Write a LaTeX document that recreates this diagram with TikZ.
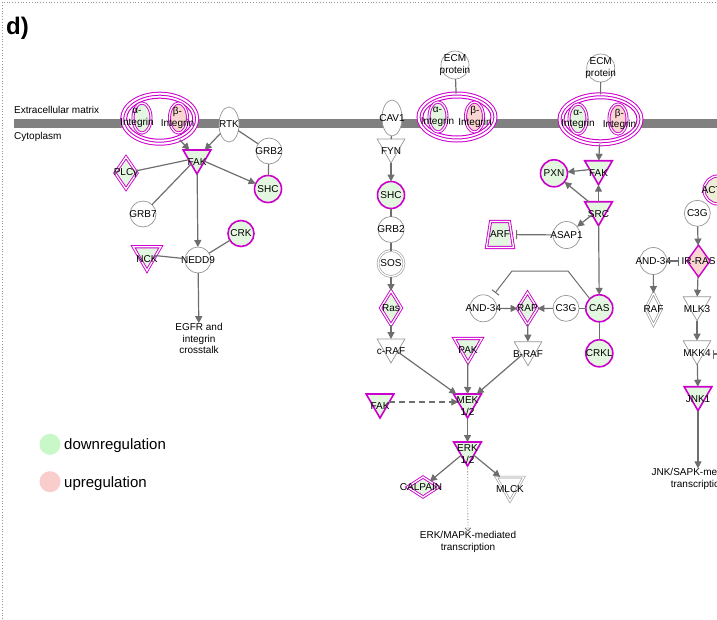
\documentclass[tikz,border=0pt]{standalone}
\usepackage{fontspec}
\setmainfont{Liberation Sans}
\usetikzlibrary{shapes.geometric,arrows.meta}
\definecolor{mag}{RGB}{204,0,204}
\definecolor{dgreen}{RGB}{226,246,224}
\definecolor{pinkf}{RGB}{250,214,210}
\definecolor{egray}{RGB}{110,110,110}
\definecolor{ngray}{RGB}{150,150,150}
\definecolor{mbar}{RGB}{128,128,128}
\definecolor{lgreen}{RGB}{200,248,200}
\definecolor{lpink}{RGB}{250,205,205}
\definecolor{actf}{RGB}{236,238,214}
\newcommand\nfs{\fontsize{10}{11.5}\selectfont}
\tikzset{
 nd/.style={inner sep=0pt,outer sep=0pt},
 lbl/.style={font=\nfs,align=center,inner sep=0pt,text=black},
 lc/.style={label={[lbl]center:#1}},
 lt/.style={label={[lbl,yshift=-4pt]center:#1}},
 wline/.style={draw=ngray,line width=0.7pt,fill=white},
 mline/.style={draw=mag,line width=1.6pt,fill=dgreen},
 mdbl/.style={draw=mag,line width=0.9pt,double=white,double distance=1.3pt,fill=dgreen},
 gdbl/.style={draw=ngray,line width=0.6pt,double=white,double distance=1.3pt,fill=white},
 circ/.style={nd,circle,minimum size=26pt},
 tri/.style={nd,regular polygon,regular polygon sides=3,shape border rotate=180,minimum size=32pt},
 dia/.style={nd,diamond},
 ell/.style={nd,ellipse},
 conn/.style={draw=egray,line width=1.2pt},
 arr/.style={conn,-{Triangle[length=7pt,width=7pt]}},
 inh/.style={conn,-{Bar[width=9pt]}},
 cx/.style={ell,draw=mag,line width=1pt,double=white,double distance=2pt,fill=white},
 cxin/.style={ell,draw=mag,line width=1pt},
 intg/.style={ell,draw=mag,line width=0.9pt,double=white,double distance=1.2pt,minimum width=18pt,minimum height=30pt},
}
\begin{document}
\begin{tikzpicture}[x=1pt,y=-1pt]
\useasboundingbox (0,0) rectangle (717,619);
\clip (0,0) rectangle (717,619);
\draw[ngray,dotted,line width=0.8pt] (2,619) -- (2,2) -- (717,2);
\node[anchor=base west,font=\fontsize{24}{28}\selectfont\bfseries,inner sep=0pt] (title) at (6,34) {d)};

% membrane
\fill[mbar] (14,119) rectangle (717,128);
\node[lbl,anchor=base west] (ecmtxt) at (14,113.5) {Extracellular matrix};
\node[lbl,anchor=base west] (cyto) at (14,139.5) {Cytoplasm};

% integrin complex 1
\node[cx,minimum width=75pt,minimum height=50pt] (cx1) at (159.7,118.7) {};
\node[cxin,minimum width=66pt,minimum height=41pt] (cx1i) at (159.7,118.7) {};
\node[intg,fill=dgreen] (a1) at (142,118) {};
\node[intg,fill=pinkf] (b1) at (178.5,118) {};
\node[lbl] (a1t) at (137,118) {α-\\Integrin};
\node[lbl] (b1t) at (177.5,118) {β-\\Integrin};

% integrin complex 2
\node[cx,minimum width=77pt,minimum height=47pt] (cx2) at (457,117) {};
\node[cxin,minimum width=68pt,minimum height=38pt] (cx2i) at (457,117) {};
\node[intg,fill=dgreen] (a2) at (438,117) {};
\node[intg,fill=pinkf] (b2) at (474.5,117) {};
\node[lbl] (a2t) at (437.5,117) {α-\\Integrin};
\node[lbl] (b2t) at (475,117) {β-\\Integrin};

% integrin complex 3
\node[cx,minimum width=82pt,minimum height=50pt] (cx3) at (600.5,119.3) {};
\node[cxin,minimum width=73pt,minimum height=41pt] (cx3i) at (600.5,119.3) {};
\node[intg,fill=dgreen] (a3) at (578,119) {};
\node[intg,fill=pinkf] (b3) at (618,119) {};
\node[lbl] (a3t) at (578,119.5) {α-\\Integrin};
\node[lbl] (b3t) at (619.5,119.5) {β-\\Integrin};

% left network
\node[ell,wline,minimum width=20pt,minimum height=35pt,lc=RTK] (rtk) at (229,124.5) {};
\node[circ,wline,lc=GRB2] (grb2a) at (269,151) {};
\node[tri,mline,lt=FAK] (fakL) at (197,158) {};
\node[dia,mdbl,minimum width=22pt,minimum height=32pt,lc=PLCγ] (plc) at (126,173) {};
\node[circ,mline,minimum size=27pt,lc=SHC] (shcA) at (268,189) {};
\node[circ,wline,lc=GRB7] (grb7) at (143,214) {};
\node[circ,wline,lc=NEDD9] (nedd9) at (198,260) {};
\node[circ,mline,lc=CRK] (crk) at (241,233.5) {};
\node[tri,mdbl,lt=NCK] (nck) at (147,254.7) {};
\node[lbl] (egfr) at (199,338.5) {EGFR and\\integrin\\crosstalk};

% middle network
\node[circ,wline,minimum size=28pt,lc={ECM\\protein}] (ecm2) at (455,65) {};
\node[ell,wline,minimum width=20pt,minimum height=36pt,lc=CAV1] (cav1) at (392,118) {};
\node[tri,wline,lt=FYN] (fyn) at (391,147) {};
\node[circ,mline,minimum size=27pt,lc=SHC] (shcB) at (391,195) {};
\node[circ,wline,lc=GRB2] (grb2b) at (391,229.5) {};
\node[circ,gdbl,lc=SOS] (sos) at (391,263.5) {};
\node[dia,mdbl,minimum width=21pt,minimum height=34pt,lc=Ras] (ras) at (391,308) {};
\node[tri,wline,lt=c-RAF] (craf) at (391,347) {};
\node[tri,mdbl,lt=PAK] (pak) at (468,346.5) {};
\node[tri,mline,lt={MEK\\1/2}] (mek) at (467.5,402) {};
\node[tri,mline,lt=FAK] (fakM) at (380,402) {};
\node[tri,mline,lt={ERK\\1/2}] (erk) at (467.5,450) {};
\node[dia,mdbl,minimum width=31pt,minimum height=20pt] (calpain) at (423,487) {};
\node[lbl] (calpaint) at (421,487) {CALPAIN};
\node[tri,gdbl,lt=MLCK] (mlck) at (510,485) {};
\node[lbl] (erktxt) at (468,542) {ERK/MAPK-mediated\\transcription};

% right network
\node[circ,wline,minimum size=28pt,lc={ECM\\protein}] (ecm3) at (600.7,68) {};
\node[tri,mline,lt=FAK] (fakR) at (598.5,168.7) {};
\node[circ,mline,minimum size=27pt,lc=PXN] (pxn) at (554,173.3) {};
\node[tri,mline,lt=SRC] (src) at (598.5,209.7) {};
\node[circ,wline,minimum size=27pt,lc=ASAP1] (asap1) at (566.5,235) {};
\node[nd,trapezium,trapezium left angle=78,trapezium right angle=78,trapezium stretches=true,minimum width=27pt,minimum height=26pt,mdbl,lc=ARF] (arf) at (500,234.5) {\phantom{\rule{2pt}{2pt}}};
\node[circ,mline,minimum size=27pt,lc=CAS] (casN) at (599.3,308.3) {};
\node[circ,mline,minimum size=27pt,lc=CRKL] (crkl) at (599.3,353.3) {};
\node[circ,wline,lc=C3G] (c3gM) at (566,308.3) {};
\node[dia,mdbl,minimum width=20pt,minimum height=32pt,lc=RAP] (rap) at (527.5,308.5) {};
\node[circ,wline,minimum size=27pt,lc=AND-34] (and34M) at (483.3,308.3) {};
\node[tri,wline,lt=B-RAF] (braf) at (528,349.7) {};

% far right network
\node[circ,mdbl,fill=actf,minimum size=28pt] (act) at (718,190) {};
\node[lbl,anchor=west] (actt) at (701.5,190) {ACT};
\node[circ,wline,lc=C3G] (c3gR) at (697.3,213.3) {};
\node[dia,draw=mag,line width=1.4pt,fill=pinkf,minimum width=23pt,minimum height=32pt,lc=IR-RAS] (irras) at (698.5,261) {};
\node[circ,wline,minimum size=27pt,lc=AND-34] (and34R) at (653.3,261) {};
\node[dia,gdbl,minimum width=16pt,minimum height=32pt,lc=RAF] (rafR) at (653.5,309) {};
\node[tri,wline,lt=MLK3] (mlk3) at (697,304.7) {};
\node[tri,wline,lt=MKK4] (mkk4) at (697,348.7) {};
\node[tri,mline,lt=JNK1] (jnk1) at (698,394.7) {};
\node[lbl] (jnktxt) at (698,479) {JNK/SAPK-mediated\\transcription};
\coordinate (mkkin) at (740,354);
\coordinate (k1) at (568,271);
\coordinate (k2) at (512,271);

% legend
\node[nd,circle,fill=lgreen,minimum size=21pt] (lg1) at (50,444.3) {};
\node[anchor=west,font=\fontsize{15}{18}\selectfont,inner sep=0pt] (lg1t) at (64,446) {downregulation};
\node[nd,circle,fill=lpink,minimum size=21pt] (lg2) at (50,481.7) {};
\node[anchor=west,font=\fontsize{15}{18}\selectfont,inner sep=0pt] (lg2t) at (64,484) {upregulation};

% left edges
\draw[arr] (cx1) -- (fakL);
\draw[arr] (rtk) -- (fakL);
\draw[conn] (rtk) -- (grb2a);
\draw[conn] (grb2a) -- (shcA);
\draw[arr] (fakL) -- (shcA);
\draw[conn] (fakL) -- (plc);
\draw[conn] (fakL) -- (grb7);
\draw[arr] (fakL) -- (nedd9);
\draw[conn] (nedd9) -- (crk);
\draw[conn] (nedd9) -- (nck);
\draw[arr] (nedd9) -- (egfr);

% middle edges
\draw[conn] (ecm2) -- (cx2);
\draw[conn] (cav1) -- (fyn);
\draw[arr] (fyn) -- (shcB);
\draw[conn] (shcB) -- (grb2b);
\draw[conn] (grb2b) -- (sos);
\draw[arr] (sos) -- (ras);
\draw[arr] (ras) -- (craf);
\draw[arr] (craf) -- (mek);
\draw[arr] (pak) -- (mek);
\draw[arr] (braf) -- (mek);
\draw[arr,dash pattern=on 6pt off 4pt] (fakM) -- (mek);
\draw[arr] (mek) -- (erk);
\draw[arr] (erk) -- (calpain);
\draw[arr] (erk) -- (mlck);
\draw[draw=egray,line width=0.8pt,dotted,-{Straight Barb[length=3pt,width=6pt]}] (erk) -- (erktxt);

% right edges
\draw[conn] (ecm3) -- (cx3);
\draw[arr] (cx3) -- (fakR);
\draw[arr] (fakR) -- (pxn);
\draw[arr] (src) -- (fakR);
\draw[arr] (src) -- (pxn);
\draw[arr] (src) -- (asap1);
\draw[inh,shorten >=4.5pt] (asap1) -- (arf);
\draw[arr] (src) -- (casN);
\draw[conn] (casN) -- (crkl);
\draw[conn] (casN) -- (c3gM);
\draw[arr] (c3gM) -- (rap);
\draw[arr] (and34M) -- (rap);
\draw[arr] (rap) -- (braf);
\draw[inh,line width=1pt,shorten >=6pt] (casN.135) -- (k1) -- (k2) -- (and34M);

% far right edges
\draw[arr] (c3gR) -- (irras);
\draw[inh,shorten >=8pt] (and34R) -- (irras);
\draw[arr] (and34R) -- (rafR);
\draw[arr] (irras) -- (mlk3);
\draw[arr] (mlk3) -- (mkk4);
\draw[arr] (mkk4) -- (jnk1);
\draw[arr] (jnk1) -- (jnktxt);
\draw[inh,shorten >=16pt] (mkkin) -- (mkk4.center |- mkkin);
\end{tikzpicture}
\end{document}
